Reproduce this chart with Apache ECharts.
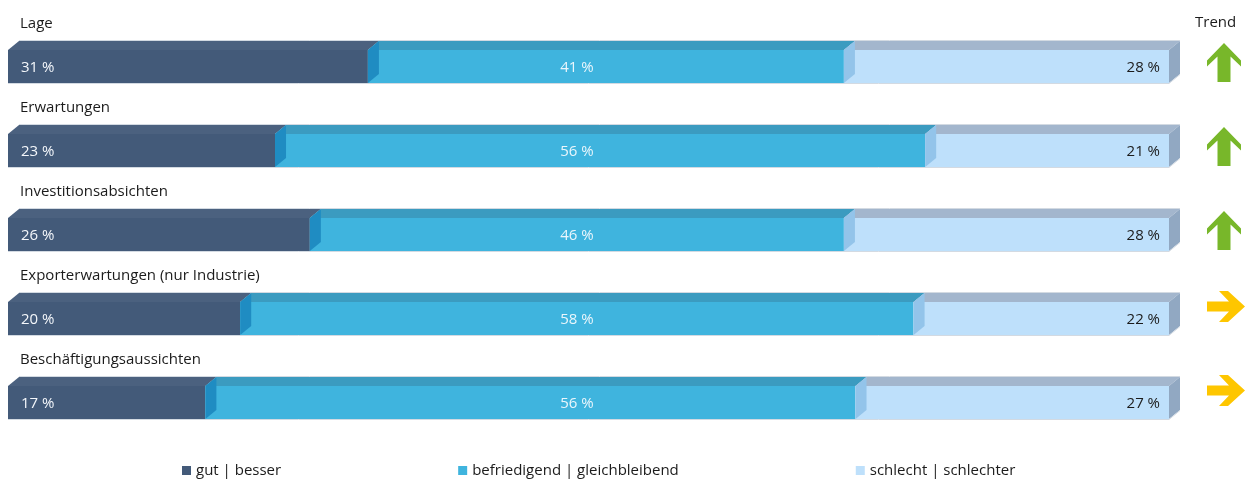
<!DOCTYPE html>
<html>
<head>
<meta charset="utf-8">
<script src="https://cdn.jsdelivr.net/npm/echarts@6/dist/echarts.min.js"></script>
<style>
  html, body { margin: 0; padding: 0; background: #ffffff; }
  #chart { width: 1255px; height: 481px; }
</style>
</head>
<body>
<div id="chart"></div>
<script>
// Survey indicators, share of answers per category (percent)
const categories = ['Lage', 'Erwartungen', 'Investitionsabsichten', 'Exporterwartungen (nur Industrie)', 'Beschäftigungsaussichten'];
const gutBesser = [31, 23, 26, 20, 17];
const befriedigendGleich = [41, 56, 46, 58, 56];
const schlechtSchlechter = [28, 21, 28, 22, 27];
const trend = ['up', 'up', 'up', 'right', 'right'];
const seriesNames = ['gut | besser', 'befriedigend | gleichbleibend', 'schlecht | schlechter'];

const FONT = '"Open Sans", "Noto Sans", sans-serif';

// Face colours of the three stacked segments
const faces = [
  { front: '#435a79', top: '#4b617f', strip: null,      end: null,      label: '#f4f7fb', align: 'left'   },
  { front: '#3fb4de', top: '#3b9bc0', strip: '#1f8cc2', end: null,      label: '#eaf6fc', align: 'center' },
  { front: '#bee0fb', top: '#a3b6cd', strip: '#93c4ea', end: '#91a8c2', label: '#1b1b1b', align: 'right'  }
];

const valueSets = [gutBesser, befriedigendGleich, schlechtSchlechter];

// cumulative start/end for each segment
function segData(k) {
  return categories.map((c, i) => {
    let start = 0;
    for (let j = 0; j < k; j++) start += valueSets[j][i];
    return [i, start, start + valueSets[k][i], valueSets[k][i]];
  });
}

const H = 33, DX = 11, DY = 9;

function makeBarSeries(k) {
  const f = faces[k];
  return {
    type: 'custom',
    name: seriesNames[k],
    itemStyle: { color: f.front },
    encode: { x: [1, 2], y: 0 },
    data: segData(k),
    z: 2 + k,
    renderItem: function (params, api) {
      const idx = api.value(0);
      const p0 = api.coord([api.value(1), idx]);
      const p1 = api.coord([api.value(2), idx]);
      const x0 = p0[0], x1 = p1[0], yc = p0[1];
      const ft = yc - H / 2, fb = yc + H / 2;
      const children = [];
      children.push({
        type: 'polygon',
        shape: { points: [[x0, ft], [x0 + DX, ft - DY], [x1 + DX, ft - DY], [x1, ft]] },
        style: { fill: f.top }
      });
      children.push({
        type: 'rect',
        shape: { x: x0, y: ft, width: x1 - x0, height: H },
        style: { fill: f.front }
      });
      if (f.strip) {
        children.push({
          type: 'polygon',
          shape: { points: [[x0, ft], [x0 + DX, ft - DY], [x0 + DX, fb - DY], [x0, fb]] },
          style: { fill: f.strip }
        });
      }
      if (f.end) {
        children.push({
          type: 'polygon',
          shape: { points: [[x1, ft], [x1 + DX, ft - DY], [x1 + DX, fb - DY], [x1, fb]] },
          style: { fill: f.end }
        });
        // faint outline along the bar edges
        const left = api.coord([0, idx])[0];
        children.push({
          type: 'polyline',
          shape: { points: [[left, fb + 0.5], [x1, fb + 0.5], [x1 + DX, fb - DY + 0.5]] },
          style: { stroke: '#d3dae2', lineWidth: 1, fill: null }
        });
        children.push({
          type: 'polyline',
          shape: { points: [[left + DX, ft - DY - 0.5], [x1 + DX, ft - DY - 0.5]] },
          style: { stroke: '#d3dae2', lineWidth: 1, fill: null }
        });
      }
      let tx;
      if (f.align === 'left') tx = x0 + 13;
      else if (f.align === 'center') tx = api.coord([49, idx])[0];
      else tx = x1 - 9;
      children.push({
        type: 'text',
        style: {
          x: tx, y: yc + 1,
          text: api.value(3) + ' %',
          fill: f.label,
          font: '15px ' + FONT,
          align: f.align, verticalAlign: 'middle'
        }
      });
      if (k === 0) {
        children.push({
          type: 'text',
          style: {
            x: x0 + 12, y: yc - 43,
            text: categories[idx],
            fill: '#1b1b1b',
            font: '15px ' + FONT,
            align: 'left', verticalAlign: 'middle'
          }
        });
      }
      return { type: 'group', children: children };
    }
  };
}

// Trend arrows to the right of the bars
const upArrow = [[0, -19.5], [17, -2], [17, 4], [6.5, -6], [6.5, 19.5], [-6.5, 19.5], [-6.5, -6], [-17, 4], [-17, -2]];
const rightArrow = [[19, 0], [2, -15.5], [-7, -15.5], [3, -5], [-19, -5], [-19, 5], [3, 5], [-7, 15.5], [2, 15.5]];

const trendSeries = {
  type: 'custom',
  name: 'Trend',
  data: trend.map((t, i) => [i, t === 'up' ? 1 : 0]),
  encode: { y: 0 },
  z: 6,
  renderItem: function (params, api) {
    const idx = api.value(0);
    const yc = api.coord([0, idx])[1];
    const isUp = api.value(1) === 1;
    const cx = isUp ? 1224 : 1226;
    const cy = isUp ? yc - 4 : yc - 12;
    const pts = (isUp ? upArrow : rightArrow).map(p => [cx + p[0], cy + p[1]]);
    return {
      type: 'polygon',
      shape: { points: pts },
      style: { fill: isUp ? '#78b72a' : '#fec600' }
    };
  }
};

const chart = echarts.init(document.getElementById('chart'));
chart.setOption({
  animation: false,
  grid: { left: 8, top: 24.5, width: 1161, height: 420, containLabel: false },
  xAxis: { type: 'value', min: 0, max: 100, show: false },
  yAxis: { type: 'category', data: categories, inverse: true, show: false },
  legend: {
    data: seriesNames,
    left: 182,
    top: 463,
    padding: 0,
    itemWidth: 9,
    itemHeight: 9,
    itemGap: 177,
    icon: 'rect',
    textStyle: { fontFamily: FONT, fontSize: 15, color: '#1b1b1b' },
    selectedMode: false
  },
  graphic: [{
    type: 'text',
    left: 1195, top: 15,
    style: { text: 'Trend', font: '15px ' + FONT, fill: '#1b1b1b' }
  }],
  series: [makeBarSeries(0), makeBarSeries(1), makeBarSeries(2), trendSeries]
});
</script>
</body>
</html>
